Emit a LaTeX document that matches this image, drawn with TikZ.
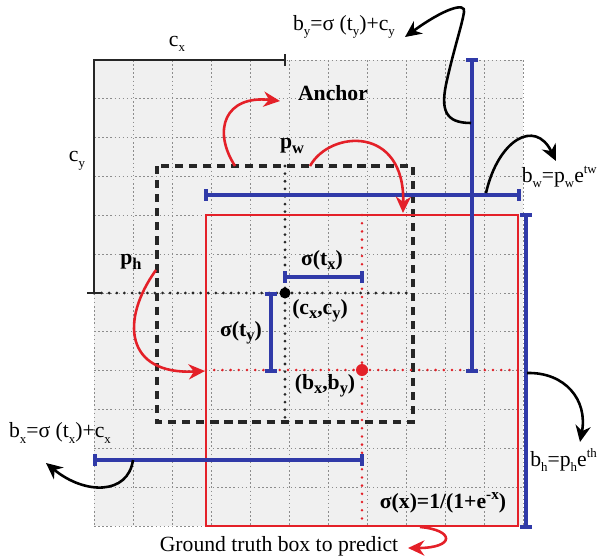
\documentclass[tikz,border=0pt]{standalone}
\usepackage{fontspec}
\setmainfont{Liberation Serif}
\usetikzlibrary{arrows.meta}
\definecolor{gtred}{RGB}{228,32,40}
\definecolor{bblue}{RGB}{48,58,168}
\definecolor{gridbg}{RGB}{240,240,240}
\definecolor{griddot}{RGB}{140,140,140}
\newcommand\lo[1]{\raisebox{-0.55ex}{\fontsize{11}{11}\selectfont #1}}
\newcommand\blo[1]{\raisebox{-0.45ex}{\fontsize{14}{14}\selectfont\bfseries #1}}
\newcommand\hi[1]{\raisebox{0.9ex}{\fontsize{11}{11}\selectfont #1}}
\newcommand\bhi[1]{\raisebox{0.85ex}{\fontsize{13}{13}\selectfont\bfseries #1}}
\begin{document}
\begin{tikzpicture}[x=0.03cm,y=-0.03cm,
  lbl/.style={font=\fontsize{18.5}{21}\selectfont, inner sep=0pt},
  blbl/.style={font=\fontsize{18.5}{21}\selectfont\bfseries, inner sep=0pt},
  gridline/.style={griddot, line width=0.7pt, dash pattern=on 1.3pt off 2.2pt},
  bline/.style={bblue, line width=2.6pt},
  rbox/.style={gtred, line width=2.5pt},
  anchorbox/.style={black!85, line width=2.8pt, dash pattern=on 7pt off 5pt},
  kdots/.style={black!85, line width=2.6pt, line cap=round, dash pattern=on 0pt off 6.5pt},
  rdots/.style={gtred, line width=2.4pt, line cap=round, dash pattern=on 0pt off 7pt},
  karrow/.style={black, line width=2.2pt, -{Stealth[length=14pt,width=13pt]}},
  rarrow/.style={gtred, line width=2.2pt, -{Stealth[length=14pt,width=13pt]}},
]
\useasboundingbox (0,0) rectangle (598,557);
% grid
\fill[gridbg] (94,60) rectangle (523,526);
\foreach \i in {0,...,11} \draw[gridline] ({94+39*\i},60) -- ({94+39*\i},526);
\foreach \j in {0,...,12} \draw[gridline] (94,{60+38.83*\j}) -- (523,{60+38.83*\j});

% coordinates
\coordinate (O) at (94,60);
\coordinate (Cy) at (94,293);
\coordinate (Cx) at (285,60);
\coordinate (C) at (285,293);
\coordinate (B) at (362,370);

% black L
\draw[black!85, line width=2pt] (Cy) -- (O) -- (Cx);
\draw[black!85, line width=2pt] (Cy) ++(-7,0) -- ++(14,0);
\draw[black!85, line width=2pt] (Cx) ++(0,-6) -- ++(0,12);

% anchor box
\draw[anchorbox] (157,166) rectangle (413,422);
\draw[kdots] (285,166) -- (285,422);
\draw[kdots] (Cy) -- (413,293);

% ground truth box
\draw[rbox] (206,215) rectangle (518,526);
\draw[rdots] (362,215) -- (362,526);
\draw[rdots] (206,370) -- (518,370);

% blue lines
\coordinate (tx1) at (285,277); \coordinate (tx2) at (362,277);
\coordinate (ty1) at (271,294); \coordinate (ty2) at (271,371);
\coordinate (bw1) at (206,195); \coordinate (bw2) at (519,195);
\coordinate (by1) at (472,60);  \coordinate (by2) at (472,371);
\coordinate (bh1) at (526,215); \coordinate (bh2) at (526,527);
\coordinate (bx1) at (95,460);  \coordinate (bx2) at (362,460);
\foreach \a/\b in {tx1/tx2, bw1/bw2, bx1/bx2} {
  \draw[bline] (\a) -- (\b);
  \draw[bline] (\a) ++(0,-6) -- ++(0,12);
  \draw[bline] (\b) ++(0,-6) -- ++(0,12);
}
\foreach \a/\b in {ty1/ty2, by1/by2, bh1/bh2} {
  \draw[bline] (\a) -- (\b);
  \draw[bline] (\a) ++(-6,0) -- ++(12,0);
  \draw[bline] (\b) ++(-6,0) -- ++(12,0);
}

% dots
\fill[black] (C) circle (5.5);
\fill[gtred] (B) circle (6);

% labels
\node[lbl] (lcx) at (177,44) {c\lo{x}};
\node[lbl] (lcy) at (77,161) {c\lo{y}};
\node[lbl] (lby) at (344,27) {b\lo{y}=σ (t\lo{y})+c\lo{y}};
\node[blbl] (lanchor) at (333,93) {Anchor};
\node[blbl] (lpw) at (292,146) {p\blo{w}};
\node[lbl, anchor=east] (lbw) at (597,177) {b\lo{w}=p\lo{w}e\hi{tw}};
\node[blbl] (lph) at (131,262) {p\blo{h}};
\node[blbl] (ltx) at (322,260) {σ(t\blo{x})};
\node[blbl] (lc) at (320,311) {(c\blo{x},c\blo{y})};
\node[blbl] (lty) at (241,333) {σ(t\blo{y})};
\node[blbl] (lb) at (325,386) {(b\blo{x},b\blo{y})};
\node[lbl] (lbx) at (60,433) {b\lo{x}=σ (t\lo{x})+c\lo{x}};
\node[lbl, anchor=east] (lbh) at (597,460) {b\lo{h}=p\lo{h}e\hi{th}};
\node[blbl] (lsig) at (443,503) {σ(x)=1/(1+e\bhi{-x})};
\node[lbl] (lgt) at (279,546) {Ground truth box to predict};

% black curved arrows
\coordinate (byS) at (471,123); \coordinate (byE) at (405,37);
\draw[karrow] (byS) .. controls (445,123) and (440,110) .. (447,80)
  .. controls (455,45) and (462,25) .. (464,12)
  .. controls (466,2) and (445,8) .. (byE);
\coordinate (bwS) at (486,193); \coordinate (bwE) at (556,161);
\draw[karrow] (bwS) .. controls (498,140) and (535,118) .. (bwE);
\coordinate (bhS) at (527,373); \coordinate (bhE) at (580,442);
\draw[karrow] (bhS) .. controls (565,372) and (588,400) .. (bhE);
\coordinate (bxS) at (133,460); \coordinate (bxE) at (46,463);
\draw[karrow] (bxS) .. controls (128,495) and (85,495) .. (bxE);

% red curved arrows
\coordinate (anS) at (235,166); \coordinate (anE) at (280,101);
\draw[rarrow] (anS) .. controls (212,130) and (225,95) .. (anE);
\coordinate (pwS) at (310,166); \coordinate (pwE) at (403,213);
\draw[rarrow] (pwS) .. controls (330,130) and (405,125) .. (pwE);
\coordinate (phS) at (156,270); \coordinate (phE) at (205,371);
\draw[rarrow] (phS) .. controls (120,320) and (125,375) .. (phE);
\coordinate (gtS) at (420,527); \coordinate (gtE) at (408,548);
\draw[rarrow] (gtS) .. controls (455,530) and (455,548) .. (gtE);
\end{tikzpicture}
\end{document}
